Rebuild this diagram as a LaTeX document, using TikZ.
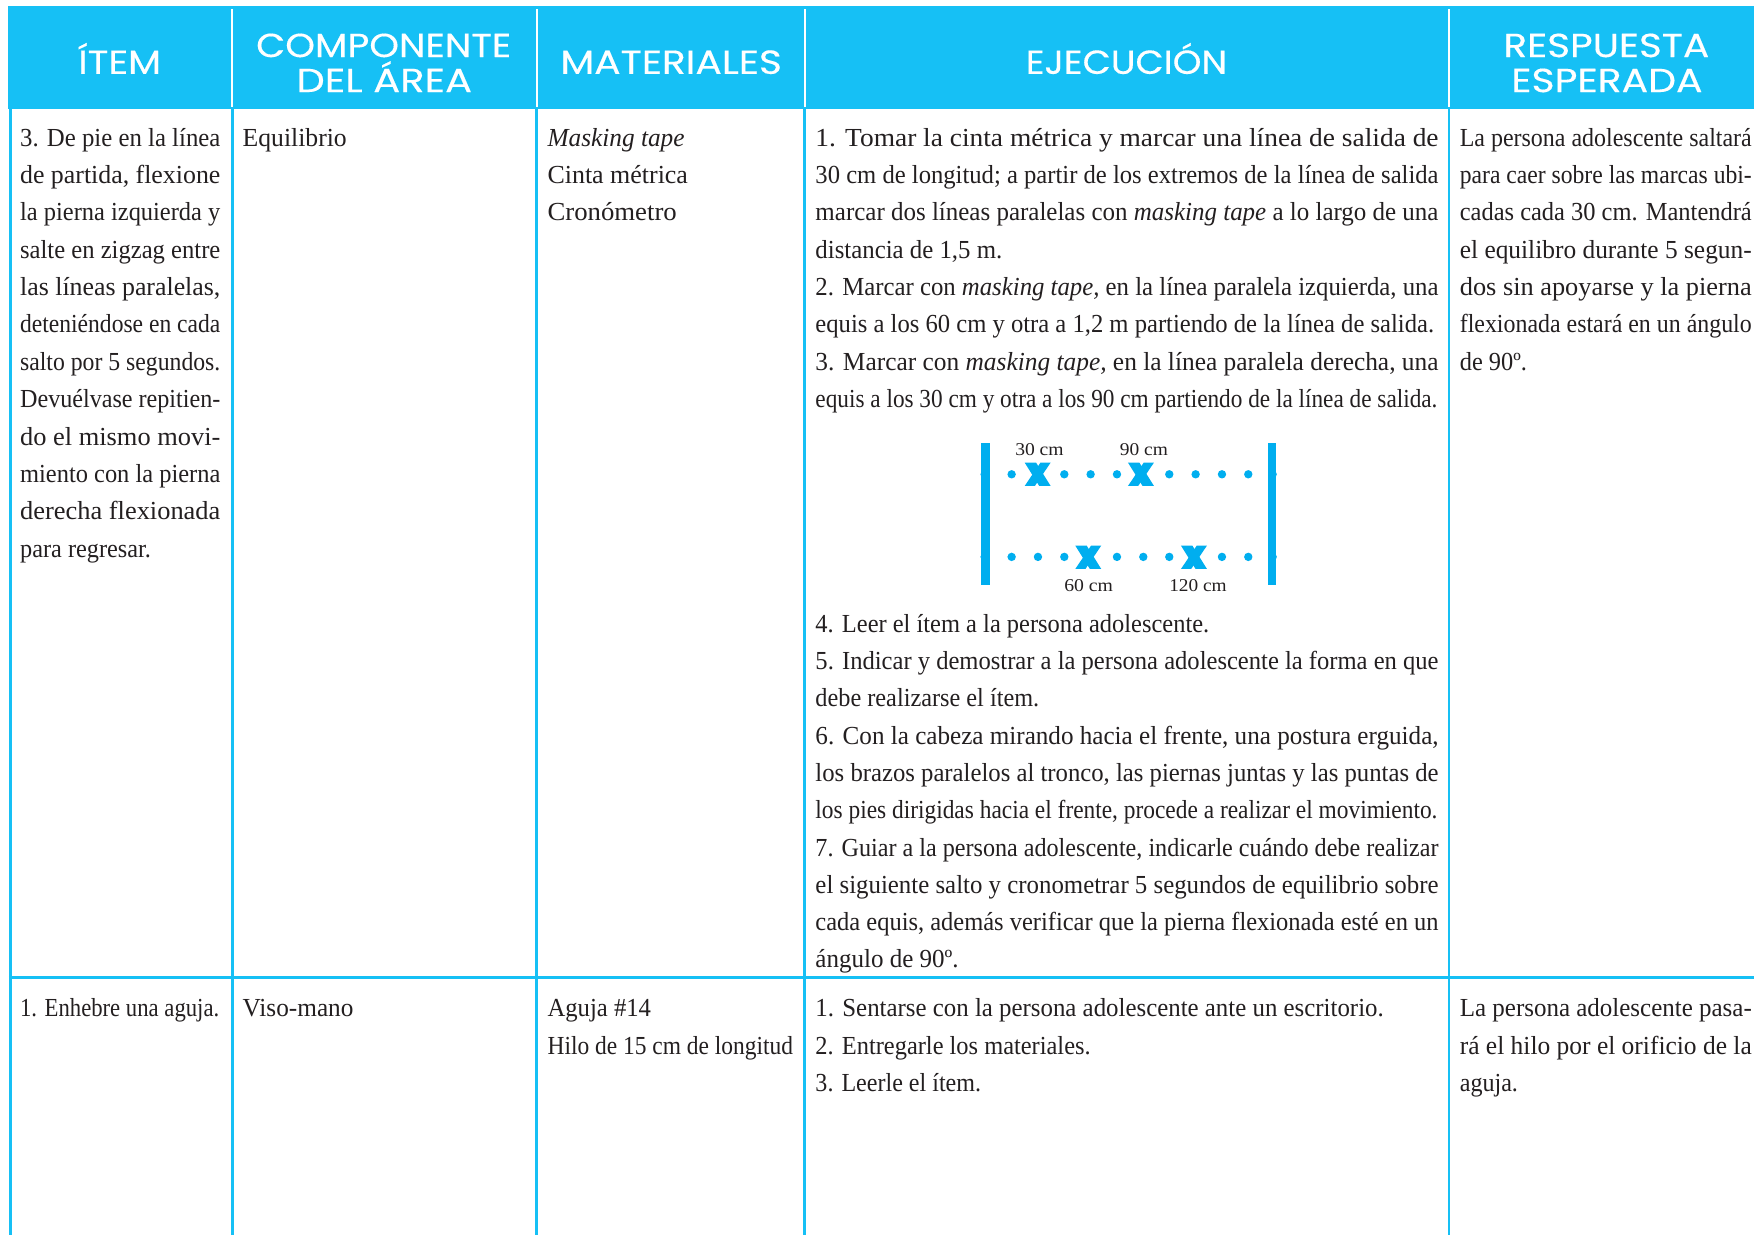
\documentclass[tikz,border=0pt]{standalone}
\usepackage{fontspec}
\usepackage{graphicx}
\setmainfont{Liberation Serif}
\newfontfamily\hdfontfam[FakeBold=0.35]{Poppins}
\definecolor{hdblue}{RGB}{22,192,245}
\definecolor{mkblue}{RGB}{0,174,239}
\definecolor{ink}{RGB}{35,31,32}
\newlength\fitlen
\newcounter{tln}
\def\uu{0.839}
\newcommand\usefnt{\fontsize{19.5}{21}\selectfont}
\newcommand\tl[4]{%
  \stepcounter{tln}%
  \node[txt] (t\arabic{tln}) at (#1,#3) {\usefnt\settowidth{\fitlen}{#4}\pgfmathsetmacro\fitratio{(#2-#1)*\uu/\fitlen}\scalebox{\fitratio}[1]{#4}};%
}
\newcommand\hl[4]{%
  \stepcounter{tln}%
  \node[hdr] (t\arabic{tln}) at (#1,#3) {\hdfontfam\fontsize{25}{27}\selectfont\settowidth{\fitlen}{#4}\pgfmathsetmacro\fitratio{(#2-#1)*\uu/\fitlen}\scalebox{\fitratio}[1]{#4}};%
}
\tikzset{
  txt/.style={anchor=base west,inner sep=0pt,outer sep=0pt,text=ink},
  hdr/.style={anchor=base west,inner sep=0pt,outer sep=0pt,text=white},
  rule/.style={draw=hdblue,line width=2.2pt},
  hrule/.style={draw=white,line width=2pt},
  dot/.style={fill=mkblue,draw=none},
  bar/.style={fill=mkblue,draw=none}
}
\begin{document}
\begin{tikzpicture}[x=0.839pt,y=-0.839pt]
\useasboundingbox (0,0) rectangle (1568,1104.03);
\fill[white] (0,0) rectangle (1568,1104.03);
% header band
\fill[hdblue] (7,5) rectangle (1568,97.5);
% body rules
\foreach \cx in {9,207.5,480,719.5,1295.3}{\draw[rule] (\cx,97) -- (\cx,1104);}
\draw[rule] (8,873.5) -- (1568,873.5);
% header rules
\foreach \cx in {207.5,480,719.5,1295.3}{\draw[hrule] (\cx,8) -- (\cx,95.5);}
% headers
\hl{70}{144}{66}{ÍTEM}
\hl{229}{457}{51}{COMPONENTE}
\hl{265}{422}{82.3}{DEL ÁREA}
\hl{501}{699}{66}{MATERIALES}
\hl{917}{1097}{66}{EJECUCIÓN}
\hl{1344}{1528}{51}{RESPUESTA}
\hl{1351}{1522}{82.3}{ESPERADA}
% column 1
\tl{18}{197}{131}{3. De pie en la línea}
\tl{18}{197}{164.3}{de partida, flexione}
\tl{18}{197}{197}{la pierna izquierda y}
\tl{18}{197}{231.5}{salte en zigzag entre}
\tl{18}{197}{264.5}{las líneas paralelas,}
\tl{18}{197}{297.5}{deteniéndose en cada}
\tl{18}{197}{331}{salto por 5 segundos.}
\tl{18}{197}{364.5}{Devuélvase repitien-}
\tl{18}{197}{398}{do el mismo movi-}
\tl{18}{197}{431.7}{miento con la pierna}
\tl{18}{197}{464.7}{derecha flexionada}
\tl{18}{135}{498}{para regresar.}
% column 2
\tl{217}{310}{131}{Equilibrio}
% column 3
\tl{489.5}{612}{131}{\textit{Masking tape}}
\tl{489.5}{615}{164.3}{Cinta métrica}
\tl{489.5}{605}{197}{Cronómetro}
% column 4
\tl{729}{1286}{131}{1. Tomar la cinta métrica y marcar una línea de salida de}
\tl{729}{1286}{164.3}{30 cm de longitud; a partir de los extremos de la línea de salida}
\tl{729}{1286}{197}{marcar dos líneas paralelas con \textit{masking tape} a lo largo de una}
\tl{729}{896}{231.5}{distancia de 1,5 m.}
\tl{729}{1286}{264.5}{2. Marcar con \textit{masking tape,} en la línea paralela izquierda, una}
\tl{729}{1282}{297.5}{equis a los 60 cm y otra a 1,2 m partiendo de la línea de salida.}
\tl{729}{1286}{331}{3. Marcar con \textit{masking tape,} en la línea paralela derecha, una}
\tl{729}{1285}{364.5}{equis a los 30 cm y otra a los 90 cm partiendo de la línea de salida.}
\tl{729}{1081}{565.5}{4. Leer el ítem a la persona adolescente.}
\tl{729}{1286}{598.5}{5. Indicar y demostrar a la persona adolescente la forma en que}
\tl{729}{929}{632}{debe realizarse el ítem.}
\tl{729}{1286}{665.4}{6. Con la cabeza mirando hacia el frente, una postura erguida,}
\tl{729}{1286}{698.7}{los brazos paralelos al tronco, las piernas juntas y las puntas de}
\tl{729}{1285}{732}{los pies dirigidas hacia el frente, procede a realizar el movimiento.}
\tl{729}{1286}{765.3}{7. Guiar a la persona adolescente, indicarle cuándo debe realizar}
\tl{729}{1286}{798.6}{el siguiente salto y cronometrar 5 segundos de equilibrio sobre}
\tl{729}{1286}{831.9}{cada equis, además verificar que la pierna flexionada esté en un}
\tl{729}{857}{865.2}{ángulo de 90º.}
% column 5
\tl{1305}{1566}{131}{La persona adolescente saltará}
\tl{1305}{1566}{164.3}{para caer sobre las marcas ubi-}
\tl{1305}{1566}{197}{cadas cada 30 cm. Mantendrá}
\tl{1305}{1566}{231.5}{el equilibro durante 5 segun-}
\tl{1305}{1566}{264.5}{dos sin apoyarse y la pierna}
\tl{1305}{1566}{297.5}{flexionada estará en un ángulo}
\tl{1305}{1365}{331}{de 90º.}
% row 2
\tl{18}{196}{908.5}{1. Enhebre una aguja.}
\tl{217}{316}{908.5}{Viso-mano}
\tl{489.5}{582}{908.5}{Aguja \#14}
\tl{489.5}{709}{942.5}{Hilo de 15 cm de longitud}
\tl{729}{1237}{908.5}{1. Sentarse con la persona adolescente ante un escritorio.}
\tl{729}{975}{942.5}{2. Entregarle los materiales.}
\tl{729}{877}{975.5}{3. Leerle el ítem.}
\tl{1305}{1566}{908.5}{La persona adolescente pasa-}
\tl{1305}{1566}{942.5}{rá el hilo por el orificio de la}
\tl{1305}{1357}{975.5}{aguja.}
% marking diagram, in full-size pixels
\begin{scope}[x=0.75pt,y=-0.75pt]
\def\uu{0.75}
\renewcommand\usefnt{\fontsize{13.5}{15}\selectfont}
\fill[bar] (981.3,443.3) rectangle (990,585);
\fill[bar] (1267.7,443.3) rectangle (1276,585);
\foreach \zx in {134,215,373,452,531,688,767,846,925,998}{
  \fill[dot] ({940+\zx/3},474.3) circle (4.2);}
\foreach \zx in {134,215,294,373,531,610,688,846,925,998}{
  \fill[dot] ({940+\zx/3},556.9) circle (4.2);}
\foreach \cx/\cy in {1037.7/474.3,1141/474.3,1088.3/557.3,1194/557.3}{
  \fill[mkblue] (\cx-13,\cy-11.7) -- (\cx-1.6,\cy-11.7) -- (\cx+13,\cy+11.7) -- (\cx+1.6,\cy+11.7) -- cycle;
  \fill[mkblue] (\cx+13,\cy-11.7) -- (\cx+2.8,\cy-11.7) -- (\cx-13,\cy+11.7) -- (\cx-2.8,\cy+11.7) -- cycle;
}
\tl{1015.3}{1063.7}{456}{30 cm}
\tl{1120}{1168}{456}{90 cm}
\tl{1064.3}{1113}{592}{60 cm}
\tl{1169.3}{1226.7}{592}{120 cm}
\end{scope}
\end{tikzpicture}
\end{document}
